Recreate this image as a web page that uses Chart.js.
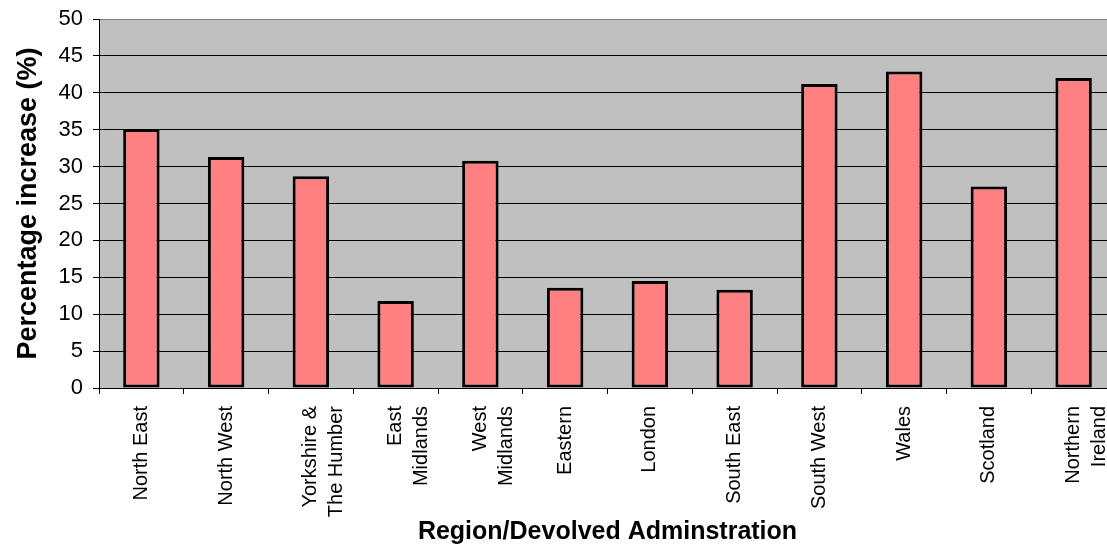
<!DOCTYPE html>
<html>
<head>
<meta charset="utf-8">
<script src="https://cdn.jsdelivr.net/npm/chart.js@4/dist/chart.umd.min.js"></script>
<style>
  html, body { margin: 0; padding: 0; background: #fff; overflow: hidden; }
  #wrap { width: 1116px; height: 556px; }
</style>
</head>
<body>
<div id="wrap"><canvas id="grafico" width="1116" height="556"></canvas></div>
<script>
// Dados do grafico
const regioes = [
  'North East', 'North West', ['Yorkshire &', 'The Humber'], ['East', 'Midlands'],
  ['West', 'Midlands'], 'Eastern', 'London', 'South East', 'South West',
  'Wales', 'Scotland', ['Northern', 'Ireland']
];
const aumento = [35.1, 31.3, 28.7, 11.8, 30.8, 13.6, 14.5, 13.3, 41.2, 42.9, 27.3, 42.0];
const ticksY = [0, 5, 10, 15, 20, 25, 30, 35, 40, 45, 50];

const fonte = 'Liberation Sans, Arial, sans-serif';

// fundo cinza da area do grafico
const fundoPlot = {
  id: 'fundoPlot',
  beforeDraw(chart) {
    const { ctx, chartArea: a } = chart;
    ctx.save();
    ctx.fillStyle = '#c0c0c0';
    ctx.fillRect(a.left, a.top, a.right - a.left, a.bottom - a.top);
    ctx.restore();
  }
};

// tira o padding automatico das escalas
function semPadding(s) {
  s.paddingLeft = 0;
  s.paddingRight = 0;
  s.paddingTop = 0;
  s.paddingBottom = 0;
}

new Chart(document.getElementById('grafico'), {
  type: 'bar',
  data: {
    labels: regioes,
    datasets: [{
      label: '',
      data: aumento,
      backgroundColor: '#ff8080',
      borderColor: '#000',
      borderWidth: 3,
      borderSkipped: false,
      barPercentage: 0.43,
      categoryPercentage: 1
    }]
  },
  options: {
    responsive: false,
    animation: false,
    devicePixelRatio: 1,
    layout: { padding: { top: 19, right: 0, left: 0, bottom: 0 } },
    plugins: {
      legend: { display: false },
      tooltip: { enabled: false }
    },
    scales: {
      x: {
        grid: { offset: true, drawOnChartArea: false, tickLength: 6, color: '#000', tickColor: '#000' },
        border: { color: '#000', width: 1 },
        ticks: {
          autoSkip: false, minRotation: 90, maxRotation: 90, padding: 12, color: '#000',
          font: { family: fonte, size: 20, lineHeight: 1.3 }
        },
        title: {
          display: true, text: 'Region/Devolved Adminstration', color: '#000',
          font: { family: fonte, size: 25, weight: 'bold' },
          padding: { top: 0, bottom: 9 }
        },
        afterFit: s => { s.height = 168; semPadding(s); }
      },
      y: {
        min: 0,
        max: 50,
        afterBuildTicks: s => { s.ticks = ticksY.map(v => ({ value: v })); },
        grid: {
          color: ctx => (ctx.tick && ctx.tick.value === 50 ? '#808080' : '#000'),
          tickLength: 6,
          tickColor: '#000'
        },
        border: { color: '#000', width: 1 },
        ticks: { padding: 10, color: '#000', font: { family: fonte, size: 22 } },
        title: {
          display: true, text: 'Percentage increase (%)', color: '#000',
          font: { family: fonte, size: 27, weight: 'bold' },
          padding: { top: 12, bottom: 0 }
        },
        afterFit: s => { s.width = 99; semPadding(s); }
      }
    }
  },
  plugins: [fundoPlot]
});
</script>
</body>
</html>
